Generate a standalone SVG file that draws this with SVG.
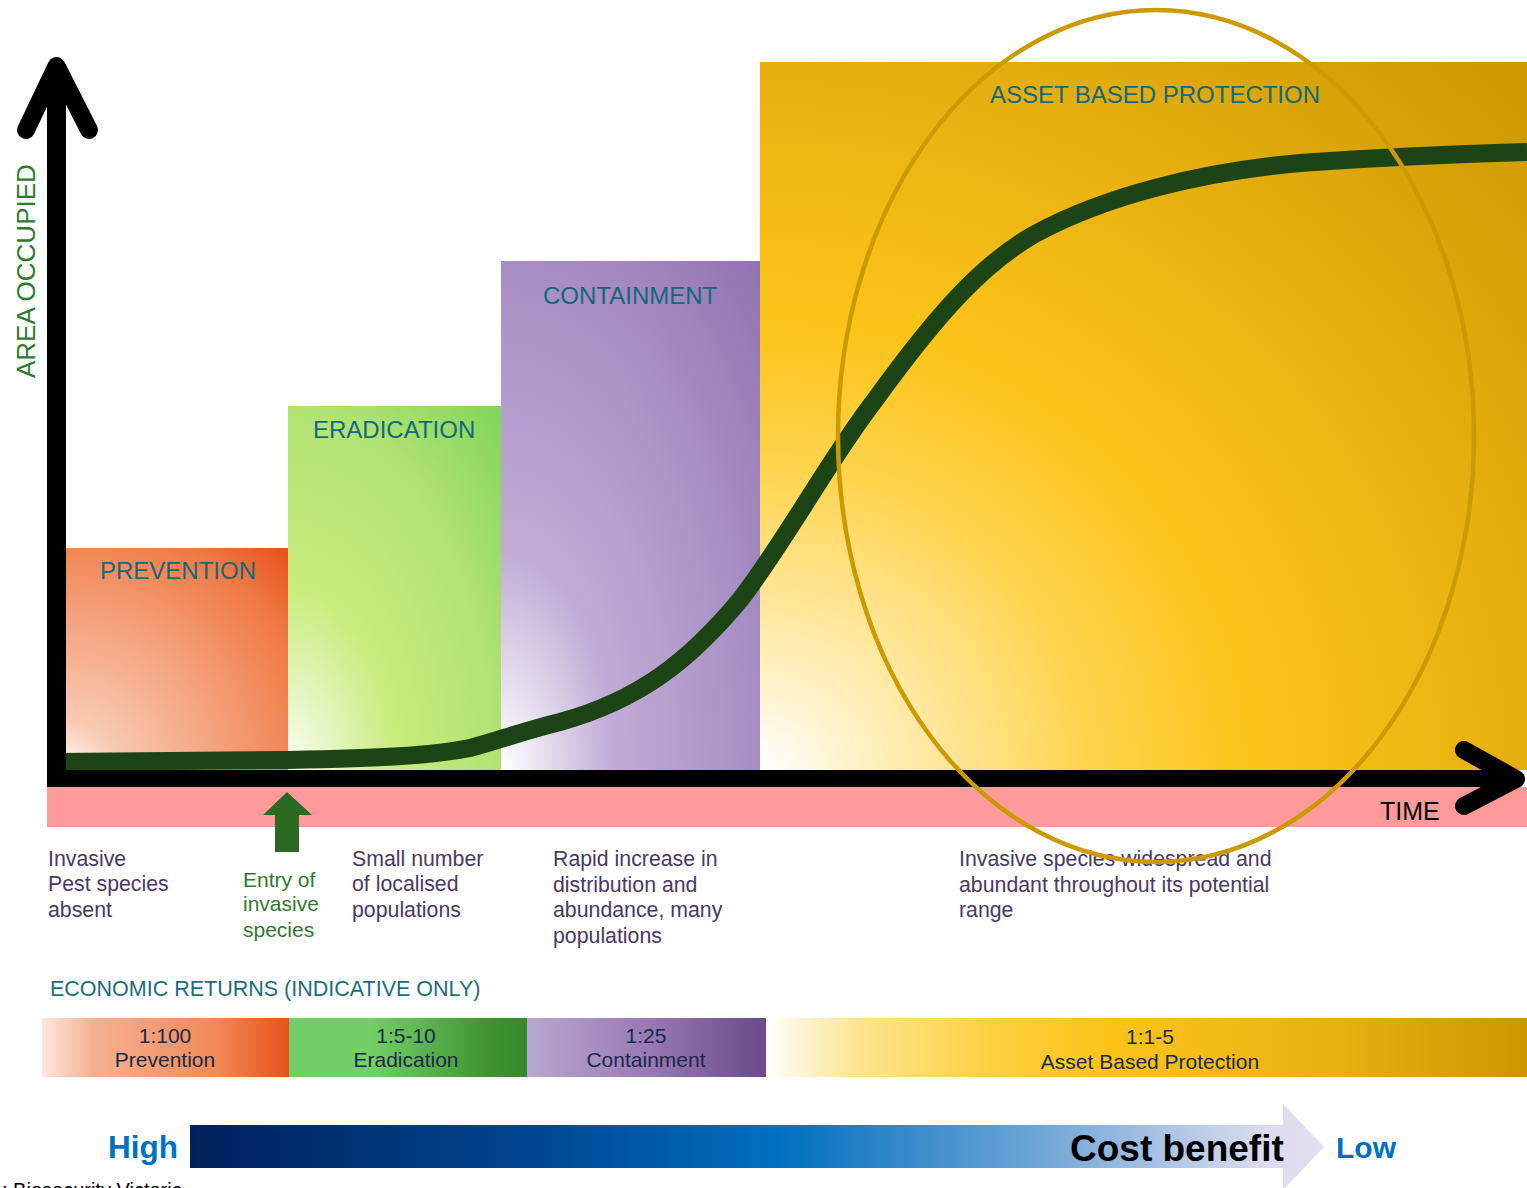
<svg xmlns="http://www.w3.org/2000/svg" width="1527" height="1188" viewBox="0 0 1527 1188">
<defs>
<style>
text{font-family:"Liberation Sans",Arial,sans-serif}
.lbl{font-size:24px;fill:#116a7c}
.desc{font-size:21.3px;fill:#4b3866}
.eco{font-size:21px;fill:#1b2a48;text-anchor:middle}
.axis{fill:none;stroke:#000;stroke-width:18;stroke-linecap:round;stroke-linejoin:round}
</style>
<radialGradient id="gPrev" cx="0" cy="1" r="1.42" fx="0" fy="1">
<stop offset="0" stop-color="#fff8f4"/><stop offset="0.15" stop-color="#f8cbb4"/><stop offset="0.5" stop-color="#f4a07a"/><stop offset="0.8" stop-color="#f07a44"/><stop offset="1" stop-color="#e8501a"/>
</radialGradient>
<radialGradient id="gErad" cx="0" cy="1" r="1.42" fx="0" fy="1">
<stop offset="0" stop-color="#fbfef5"/><stop offset="0.15" stop-color="#e4f6c2"/><stop offset="0.35" stop-color="#c9ec7e"/><stop offset="0.7" stop-color="#b0e272"/><stop offset="1" stop-color="#7fd35a"/>
</radialGradient>
<radialGradient id="gCont" cx="0" cy="1" r="1.42" fx="0" fy="1">
<stop offset="0" stop-color="#ffffff"/><stop offset="0.15" stop-color="#e0d6ea"/><stop offset="0.3" stop-color="#c0acd6"/><stop offset="0.6" stop-color="#ad96c8"/><stop offset="1" stop-color="#9372b2"/>
</radialGradient>
<radialGradient id="gAsset" cx="0" cy="1" r="1.42" fx="0" fy="1">
<stop offset="0" stop-color="#ffffff"/><stop offset="0.1" stop-color="#fff0c0"/><stop offset="0.3" stop-color="#fed44e"/><stop offset="0.45" stop-color="#fcc419"/><stop offset="0.75" stop-color="#e2ab0c"/><stop offset="1" stop-color="#c99700"/>
</radialGradient>
<linearGradient id="ePrev" x1="0" y1="0" x2="1" y2="0">
<stop offset="0" stop-color="#fde8e0"/><stop offset="0.2" stop-color="#f6b193"/><stop offset="0.7" stop-color="#f08a58"/><stop offset="1" stop-color="#e8531b"/>
</linearGradient>
<linearGradient id="eErad" x1="0" y1="0" x2="1" y2="0">
<stop offset="0" stop-color="#72ce66"/><stop offset="0.35" stop-color="#72ce66"/><stop offset="0.85" stop-color="#3f922f"/><stop offset="1" stop-color="#378a2c"/>
</linearGradient>
<linearGradient id="eCont" x1="0" y1="0" x2="1" y2="0">
<stop offset="0" stop-color="#b9a7cf"/><stop offset="0.5" stop-color="#9a79b6"/><stop offset="1" stop-color="#6a4a8a"/>
</linearGradient>
<linearGradient id="eAsset" x1="0" y1="0" x2="1" y2="0">
<stop offset="0" stop-color="#ffffff"/><stop offset="0.12" stop-color="#fde58f"/><stop offset="0.3" stop-color="#fdd040"/><stop offset="0.45" stop-color="#fcc419"/><stop offset="0.75" stop-color="#e8b010"/><stop offset="1" stop-color="#c99700"/>
</linearGradient>
<linearGradient id="gCost" gradientUnits="userSpaceOnUse" x1="190" y1="0" x2="1324" y2="0">
<stop offset="0" stop-color="#00205b"/><stop offset="0.3" stop-color="#004590"/><stop offset="0.52" stop-color="#0070c0"/><stop offset="0.75" stop-color="#70a6d6"/><stop offset="0.95" stop-color="#dcdcee"/><stop offset="1" stop-color="#e0dff0"/>
</linearGradient>
</defs>
<rect width="1527" height="1188" fill="#fff"/>
<g id="node-prevention"><rect x="66" y="548" width="222" height="222" fill="url(#gPrev)"/><text class="lbl" x="100" y="579">PREVENTION</text></g>
<g id="node-eradication"><rect x="288" y="406" width="213" height="364" fill="url(#gErad)"/><text class="lbl" x="313" y="438">ERADICATION</text></g>
<g id="node-containment"><rect x="501" y="261" width="259" height="509" fill="url(#gCont)"/><text class="lbl" x="543" y="304">CONTAINMENT</text></g>
<g id="node-asset"><rect x="760" y="62" width="767" height="708" fill="url(#gAsset)"/><text class="lbl" x="990" y="103" textLength="330">ASSET BASED PROTECTION</text></g>
<g id="timeband"><rect x="47" y="787" width="1480" height="40" fill="#ff9a9a"/><text x="1380" y="820" font-size="25" fill="#000">TIME</text></g>
<g id="connectors">
<path d="M57,762 L288,760 C380,758 430,756 470,748 C500,740 520,732 560,722 C640,700 690,660 740,600 C785,542 830,458 875,400 C940,310 985,262 1035,234 C1105,196 1200,172 1300,163 C1400,156 1460,154 1527,152" fill="none" stroke="#1c4414" stroke-width="18"/>
<rect x="47" y="68" width="19" height="719" fill="#000"/>
<rect x="47" y="770" width="1468" height="17" fill="#000"/>
<polyline class="axis" points="26,130 56.5,66 89,130"/>
<polyline class="axis" points="1464,750 1516,779 1464,806"/>
<polygon points="287,792 312,815 299,815 299,852 275,852 275,815 263,815" fill="#2a6a22"/>
</g>
<g id="axis-label"><text x="35" y="378" font-size="26" fill="#2e7a2e" transform="rotate(-90 35 378)">AREA OCCUPIED</text></g>
<g id="desc-absent"><text class="desc" x="48" y="866">Invasive</text><text class="desc" x="48" y="891">Pest species</text><text class="desc" x="48" y="917">absent</text></g>
<g id="desc-entry"><text x="243" y="887" font-size="21" fill="#2e7a2e">Entry of</text><text x="243" y="911" font-size="21" fill="#2e7a2e">invasive</text><text x="243" y="937" font-size="21" fill="#2e7a2e">species</text></g>
<g id="desc-small"><text class="desc" x="352" y="866">Small number</text><text class="desc" x="352" y="891">of localised</text><text class="desc" x="352" y="917">populations</text></g>
<g id="desc-rapid"><text class="desc" x="553" y="866">Rapid increase in</text><text class="desc" x="553" y="892">distribution and</text><text class="desc" x="553" y="917">abundance, many</text><text class="desc" x="553" y="943">populations</text></g>
<g id="desc-wide"><text class="desc" x="959" y="866">Invasive species widespread and</text><text class="desc" x="959" y="892">abundant throughout its potential</text><text class="desc" x="959" y="917">range</text></g>
<g id="ellipse"><ellipse cx="1156" cy="436" rx="318" ry="426" fill="none" stroke="#cc9a00" stroke-width="4.5"/></g>
<g id="economic">
<text x="50" y="996" font-size="21.5" fill="#1a6e82">ECONOMIC RETURNS (INDICATIVE ONLY)</text>
<rect x="42" y="1018" width="247" height="59" fill="url(#ePrev)"/>
<rect x="289" y="1018" width="238" height="59" fill="url(#eErad)"/>
<rect x="527" y="1018" width="239" height="59" fill="url(#eCont)"/>
<rect x="766" y="1018" width="761" height="59" fill="url(#eAsset)"/>
<text class="eco" x="165" y="1043">1:100</text><text class="eco" x="165" y="1067">Prevention</text>
<text class="eco" x="406" y="1043">1:5-10</text><text class="eco" x="406" y="1067">Eradication</text>
<text class="eco" x="646" y="1043">1:25</text><text class="eco" x="646" y="1067">Containment</text>
<text class="eco" x="1150" y="1044">1:1-5</text><text class="eco" x="1150" y="1069">Asset Based Protection</text>
</g>
<g id="costbenefit">
<polygon points="190,1125 1283,1125 1283,1104 1324,1147 1283,1190 1283,1168 190,1168" fill="url(#gCost)"/>
<text x="108" y="1158" font-size="31.5" font-weight="bold" fill="#0070c0">High</text>
<text x="1070" y="1161" font-size="37" font-weight="bold" fill="#000">Cost benefit</text>
<text x="1336" y="1158" font-size="30" font-weight="bold" fill="#0070c0">Low</text>
</g>
<g id="source"><text x="2" y="1197" font-size="20" fill="#000">: Biosecurity Victoria</text></g>
</svg>
